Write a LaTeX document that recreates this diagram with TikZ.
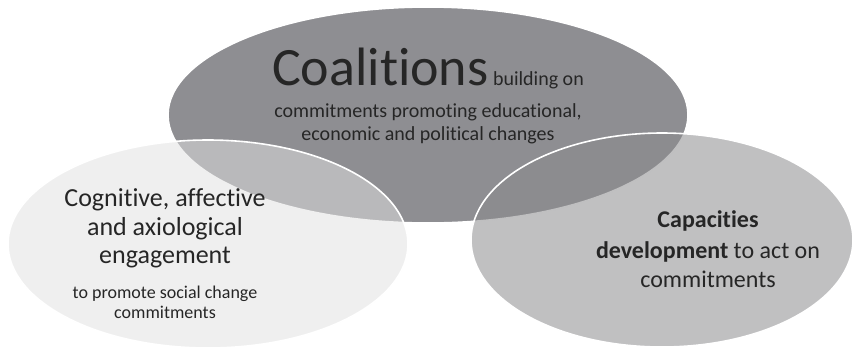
\documentclass[tikz,border=0pt]{standalone}
\usepackage{fontspec}
\setmainfont{Carlito}[Ligatures=NoCommon]

\definecolor{topgray}{RGB}{142,142,146}
\definecolor{rightgray}{RGB}{140,140,142}
\definecolor{leftgray}{RGB}{225,225,225}
\definecolor{inkgray}{RGB}{38,38,38}

\tikzset{
  venn/.style={draw=white, line width=1.6pt},
  txt/.style={anchor=base, inner sep=0pt, text=inkgray},
  hugetxt/.style={txt, font=\fontsize{54}{60}\selectfont},
  toptxt/.style={txt, font=\fontsize{20}{24}\selectfont},
  lefttxt/.style={txt, font=\fontsize{26}{29}\selectfont},
  smalltxt/.style={txt, font=\fontsize{18}{20}\selectfont},
  righttxt/.style={txt, font=\fontsize{24}{29}\selectfont},
}

\begin{document}
\begin{tikzpicture}[x=1pt, y=-1pt]
\useasboundingbox (0,0) rectangle (854,349);

% centres
\coordinate (C) at (428,115);
\coordinate (L) at (208,244);
\coordinate (R) at (662,240);

% ellipses
\path[venn, fill=topgray] (C) ellipse [x radius=260pt, y radius=108pt];
\path[venn, fill=leftgray, fill opacity=0.53] (L) ellipse [x radius=200pt, y radius=104pt];
\path[venn, fill=rightgray, fill opacity=0.55] (R) ellipse [x radius=191pt, y radius=107pt];

% coalitions
\node[hugetxt] (coal) at (428,85) {Coalitions\fontsize{20}{24}\selectfont\ building on};
\node[toptxt] (coalA) at (428,117) {commitments promoting educational,};
\node[toptxt] (coalB) at (428,140) {economic and political changes};

% engagement
\node[lefttxt] (cogA) at (165,206) {Cognitive, affective};
\node[lefttxt] (cogB) at (165,235) {and axiological};
\node[lefttxt] (cogC) at (165,263) {engagement};
\node[smalltxt] (cogD) at (165,298) {to promote social change};
\node[smalltxt] (cogE) at (165,318) {commitments};

% capacities
\node[righttxt] (capA) at (708,227) {\textbf{Capacities}};
\node[righttxt] (capB) at (708,258) {\textbf{development} to act on};
\node[righttxt] (capC) at (708,287) {commitments};

\end{tikzpicture}
\end{document}
